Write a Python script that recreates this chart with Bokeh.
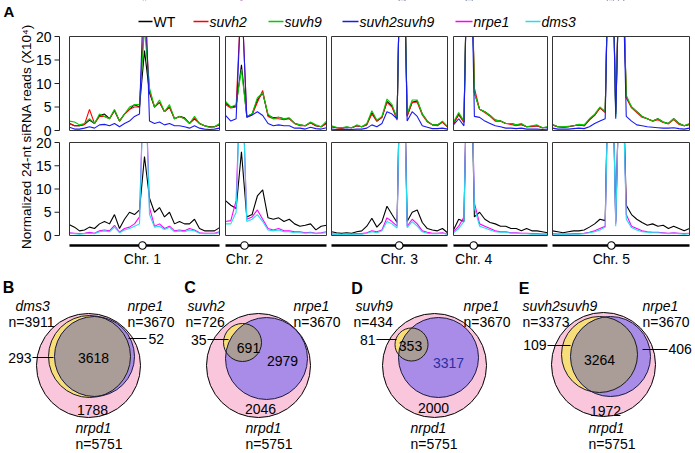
import numpy as np
from bokeh.plotting import figure
from bokeh.models import Range1d
from bokeh.core.properties import value
from bokeh.embed import file_html
from bokeh.resources import INLINE

FONT = value("Liberation Sans")

# ---------------- data ----------------
chrom_names = ["Chr. 1", "Chr. 2", "Chr. 3", "Chr. 4", "Chr. 5"]
chrom_length_mb = [30.43, 19.70, 23.46, 18.59, 26.98]
centromere_mb = [14.8, 3.7, 13.7, 4.0, 11.6]
y_ticks = [0, 5, 10, 15, 20]
y_tick_labels = ["0", "5", "10", "15", "20"]
Y_MAX = 20

# normalized 24-nt siRNA reads (x10^4), ~1 Mb bins, one list per chromosome
wt_top = [
    [1.5, 1.0, 1.0, 1.3, 2.2, 1.5, 3.2, 3.5, 2.5, 4.2, 2.0, 3.5, 4.5, 5.5, 5.0, 17, 8.0, 5.0, 6.0, 4.0, 5.0, 2.5, 3.0, 2.7, 1.5, 2.5, 1.5, 1.0, 0.8, 0.8, 1.2],
    [5.8, 5.0, 5.2, 14, 3.0, 3.5, 6.5, 8.0, 3.2, 2.7, 2.8, 2.5, 2.6, 1.5, 1.2, 1.0, 1.7, 1.0, 0.8, 1.6],
    [0.8, 0.6, 0.5, 0.7, 0.6, 1.0, 0.8, 1.3, 3.8, 2.0, 2.8, 6.2, 5.2, 2.5, 60, 3.2, 6.0, 6.3, 3.5, 2.0, 1.2, 1.2, 1.8, 0.8],
    [1.5, 3.5, 1.8, 60, 8.0, 4.5, 4.0, 3.2, 2.2, 2.0, 1.5, 1.5, 1.2, 1.3, 0.8, 0.9, 1.0, 0.6, 0.7],
    [1.2, 0.8, 0.7, 0.8, 1.0, 1.2, 1.0, 2.3, 3.3, 4.8, 4.0, 60, 3.5, 50, 7.0, 5.0, 4.0, 3.0, 2.5, 2.0, 2.5, 1.8, 1.5, 2.5, 1.5, 1.0, 1.3],
]
suvh2 = [
    [1.5, 1.0, 1.0, 1.3, 4.5, 1.5, 3.0, 3.0, 2.5, 4.3, 2.0, 3.5, 4.5, 5.0, 5.0, 25, 8.5, 5.0, 6.0, 4.0, 5.0, 2.5, 3.0, 2.5, 1.5, 2.7, 1.5, 1.0, 0.7, 0.8, 1.2],
    [5.5, 4.8, 5.0, 30, 2.8, 3.3, 6.0, 8.5, 3.0, 2.5, 2.5, 2.3, 2.5, 1.5, 1.0, 1.0, 1.6, 1.0, 0.8, 1.5],
    [0.8, 0.6, 0.5, 0.7, 0.6, 1.0, 0.8, 1.2, 3.5, 2.0, 2.8, 6.0, 5.0, 2.2, 60, 3.0, 6.0, 6.0, 3.3, 1.8, 1.2, 1.0, 1.8, 0.7],
    [1.5, 3.3, 1.7, 60, 9.0, 4.5, 3.8, 3.0, 2.0, 2.0, 1.5, 1.3, 1.0, 1.3, 0.8, 0.8, 1.0, 0.6, 0.7],
    [1.2, 0.8, 0.7, 0.8, 1.0, 1.2, 1.0, 2.2, 3.2, 4.8, 3.8, 60, 4.0, 50, 7.0, 4.8, 3.8, 2.8, 2.5, 2.0, 2.3, 1.7, 1.4, 2.3, 1.3, 1.0, 1.3],
]
suvh9 = [
    [2.0, 1.8, 1.2, 1.5, 2.5, 1.5, 3.5, 3.0, 2.5, 4.5, 2.0, 3.5, 5.0, 5.5, 5.5, 22, 9.0, 5.0, 6.5, 4.0, 5.5, 2.5, 3.0, 2.5, 1.5, 3.0, 1.5, 1.0, 0.7, 0.8, 1.5],
    [6.2, 5.0, 5.5, 13, 3.0, 3.5, 7.0, 8.0, 3.5, 2.5, 2.8, 2.5, 2.7, 1.5, 1.2, 1.0, 1.8, 1.2, 0.8, 2.0],
    [1.0, 0.7, 0.6, 0.8, 0.6, 1.2, 0.8, 1.5, 4.2, 2.2, 3.0, 6.7, 5.5, 2.5, 60, 3.5, 6.5, 6.5, 3.5, 2.0, 1.2, 1.2, 2.0, 0.8],
    [1.8, 3.8, 2.0, 60, 8.0, 4.5, 4.0, 3.2, 2.2, 2.0, 1.5, 1.5, 1.2, 1.5, 0.8, 1.0, 1.2, 0.6, 0.8],
    [1.3, 0.8, 0.8, 0.9, 1.0, 1.3, 1.2, 2.5, 3.5, 5.0, 4.0, 60, 3.0, 50, 7.5, 5.0, 4.0, 3.0, 2.5, 2.0, 2.5, 1.8, 1.5, 2.5, 1.5, 1.0, 1.5],
]
suvh2suvh9 = [
    [0.7, 0.3, 0.3, 0.5, 0.8, 0.5, 1.2, 1.3, 1.0, 1.5, 0.8, 1.5, 2.0, 3.0, 3.5, 35, 2.0, 1.5, 1.8, 1.2, 1.5, 1.0, 1.0, 0.8, 0.5, 1.0, 0.5, 0.3, 0.2, 0.3, 0.5],
    [3.2, 2.0, 2.5, 30, 2.8, 3.3, 4.0, 3.2, 1.5, 1.0, 1.2, 1.0, 1.0, 0.5, 0.5, 0.3, 0.7, 0.4, 0.3, 0.6],
    [0.3, 0.2, 0.2, 0.3, 0.2, 0.3, 0.3, 0.5, 1.2, 0.8, 1.5, 4.0, 3.5, 2.5, 60, 2.0, 4.0, 3.0, 1.0, 0.7, 0.4, 0.4, 0.5, 0.3],
    [1.2, 2.5, 1.0, 60, 3.0, 2.8, 2.0, 1.5, 1.0, 0.8, 0.5, 0.5, 0.4, 0.5, 0.3, 0.3, 0.3, 0.2, 0.3],
    [0.5, 0.3, 0.3, 0.3, 0.4, 0.5, 0.4, 0.8, 1.5, 2.0, 2.5, 60, 2.5, 50, 3.0, 2.0, 1.2, 1.0, 0.8, 0.7, 0.6, 0.5, 0.5, 0.6, 0.4, 0.3, 0.5],
]
wt_bottom = [
    [2.3, 1.8, 1.0, 1.2, 1.8, 1.5, 2.5, 3.0, 2.5, 4.5, 1.5, 3.5, 5.0, 4.5, 5.5, 17, 8.0, 5.0, 6.0, 4.0, 5.0, 2.5, 3.0, 2.5, 2.5, 3.5, 1.5, 1.0, 1.0, 1.0, 1.7],
    [7.5, 6.5, 5.8, 18, 4.0, 4.5, 8.5, 9.8, 3.8, 3.5, 3.8, 3.0, 3.5, 2.5, 2.0, 2.2, 2.5, 1.2, 2.0, 2.2],
    [0.8, 0.6, 0.5, 0.6, 0.5, 0.8, 1.0, 2.0, 3.7, 1.8, 3.0, 6.3, 4.5, 2.8, 60, 3.0, 5.0, 5.5, 2.8, 1.5, 1.2, 1.0, 1.5, 0.6],
    [1.2, 3.5, 3.0, 60, 4.0, 5.0, 3.5, 2.8, 2.5, 2.0, 2.0, 1.5, 1.5, 1.0, 1.5, 1.0, 1.0, 0.8, 0.6],
    [1.0, 0.8, 0.6, 0.8, 1.0, 1.0, 1.2, 1.8, 2.5, 3.5, 3.2, 60, 3.0, 50, 6.5, 4.5, 3.5, 2.8, 2.2, 2.5, 2.0, 2.2, 1.5, 2.0, 1.5, 1.0, 1.5],
]
nrpe1 = [
    [0.6, 0.5, 0.4, 0.5, 0.7, 0.5, 1.0, 1.2, 1.0, 2.2, 0.7, 1.5, 1.8, 2.5, 4.0, 40, 6.0, 2.0, 2.5, 1.5, 2.0, 1.0, 1.2, 1.0, 1.5, 1.2, 0.6, 0.5, 0.5, 0.5, 0.8],
    [3.0, 3.2, 7.5, 40, 3.5, 4.0, 5.5, 3.5, 1.5, 1.2, 1.5, 1.0, 1.0, 0.8, 0.8, 0.6, 0.7, 0.5, 0.6, 0.8],
    [0.3, 0.3, 0.2, 0.3, 0.3, 0.4, 0.4, 0.6, 1.0, 0.8, 1.2, 3.8, 3.0, 2.0, 60, 2.0, 3.5, 2.5, 1.0, 0.7, 0.5, 0.5, 0.6, 0.3],
    [0.8, 2.0, 4.0, 60, 7.0, 2.5, 2.0, 1.5, 1.0, 0.8, 0.8, 0.6, 0.6, 0.5, 0.5, 0.4, 0.4, 0.3, 0.3],
    [0.4, 0.3, 0.3, 0.3, 0.4, 0.4, 0.5, 0.7, 1.0, 1.5, 2.0, 60, 2.5, 50, 4.5, 2.0, 1.5, 1.0, 0.8, 0.7, 0.7, 0.6, 0.5, 0.6, 0.5, 0.4, 0.5],
]
dms3 = [
    [0.5, 0.4, 0.3, 0.4, 0.5, 0.4, 0.8, 1.0, 0.8, 1.8, 0.6, 1.2, 1.5, 2.0, 2.5, 40, 4.5, 1.8, 2.0, 1.3, 1.8, 0.8, 1.0, 0.8, 1.2, 1.0, 0.5, 0.4, 0.4, 0.4, 0.6],
    [2.5, 2.5, 5.0, 40, 3.0, 3.5, 4.5, 3.0, 1.2, 1.0, 1.2, 0.8, 0.8, 0.6, 0.6, 0.5, 0.6, 0.4, 0.5, 0.6],
    [0.3, 0.2, 0.2, 0.3, 0.2, 0.3, 0.3, 0.5, 0.8, 0.6, 1.0, 3.0, 2.5, 1.6, 60, 1.7, 3.0, 2.0, 0.8, 0.5, 0.4, 0.4, 0.5, 0.3],
    [0.6, 1.5, 3.0, 60, 6.0, 2.0, 1.6, 1.2, 0.8, 0.7, 0.7, 0.5, 0.5, 0.4, 0.4, 0.3, 0.3, 0.3, 0.2],
    [0.3, 0.3, 0.2, 0.3, 0.3, 0.3, 0.4, 0.6, 0.8, 1.2, 1.8, 60, 2.0, 50, 3.5, 1.7, 1.2, 0.8, 0.7, 0.6, 0.6, 0.5, 0.4, 0.5, 0.4, 0.3, 0.4],
]

legend_labels = ["WT", "suvh2", "suvh9", "suvh2suvh9", "nrpe1", "dms3"]

# Venn diagrams (overlap with nrpd1-dependent loci)
venn_letters = ["B", "C", "D", "E"]
venn_query = ["dms3", "suvh2", "suvh9", "suvh2suvh9"]
venn_query_n = [3911, 726, 434, 3373]
venn_nrpe1_n = [3670, 3670, 3670, 3670]
venn_nrpd1_n = [5751, 5751, 5751, 5751]
venn_query_only = [293, 35, 81, 109]
venn_shared = [3618, 691, 353, 3264]
venn_nrpe1_only = [52, 2979, 3317, 406]
venn_nrpd1_only = [1788, 2046, 2000, 1972]

# ---------------- styles / layout ----------------
C_WT, C_S2, C_S9, C_S29, C_NRPE1, C_DMS3 = "black", "#FF0000", "#00CC00", "#1A1AF0", "#FF00FF", "#22DDEE"
legend_colors = [C_WT, C_S2, C_S9, C_S29, C_NRPE1, C_DMS3]
legend_italic = [False, True, True, True, True, True]
legend_line_x = [(138, 152), (193, 208), (268, 283), (342, 358), (455, 472), (525, 540)]
LEGEND_Y = 21

panel_x = [(69, 219), (225, 326), (331, 447), (453, 547), (552, 689)]
row_y = [(130, 36), (235, 142)]   # (pixel of 0, pixel of 20)
AXIS_X = 59
CHR_BAR_Y = 245
CHR_LABEL_Y = 258

PINK, YELLOW, PURPLE, GREY = "#FAC6DC", "#F8DE78", "#A88CE8", "#AA9C96"

W, H = 695, 453
p = figure(width=W, height=H, x_range=Range1d(0, W), y_range=Range1d(H, 0),
           output_backend="svg", toolbar_location=None, min_border=0,
           x_axis_location=None, y_axis_location=None, outline_line_color=None,
           background_fill_color="white", border_fill_color="white")
p.grid.visible = False


def txt(api, x, y, s, size="14px", style="normal", align="center", color="black", angle=0.0):
    api.text(x=[x], y=[y], text=[s], text_font=FONT, text_font_size=size,
             text_font_style=style, text_align=align, text_baseline="middle",
             text_color=color, angle=angle)


def panel(ci, ri):
    x0, x1 = panel_x[ci]
    yb, yt = row_y[ri]
    return p.subplot(x_source=Range1d(0, chrom_length_mb[ci]), y_source=Range1d(0, Y_MAX),
                     x_target=Range1d(x0, x1), y_target=Range1d(yb, yt))


def draw_row(ri, series):
    for ci in range(5):
        sub = panel(ci, ri)
        for vals, col in series:
            v = vals[ci]
            pos = np.linspace(0, chrom_length_mb[ci], len(v))
            sub.line(x=pos, y=v, line_color=col, line_width=1.1)


# bottom row, then mask overflow, then top row, then mask overflow
draw_row(1, [(wt_bottom, C_WT), (nrpe1, C_NRPE1), (dms3, C_DMS3)])
p.quad(left=-50, right=750, top=-3000, bottom=row_y[1][1], fill_color="white", line_color=None)
draw_row(0, [(wt_top, C_WT), (suvh2, C_S2), (suvh9, C_S9), (suvh2suvh9, C_S29)])
p.quad(left=-50, right=750, top=-3000, bottom=row_y[0][1], fill_color="white", line_color=None)

# frames
for ri in range(2):
    yb, yt = row_y[ri]
    p.quad(left=[a for a, b in panel_x], right=[b for a, b in panel_x],
           top=yt, bottom=yb, fill_color=None, line_color="#333333", line_width=1)

# y axes
for ri in range(2):
    yb, yt = row_y[ri]
    ax = p.subplot(x_source=Range1d(0, 1), y_source=Range1d(0, Y_MAX),
                   x_target=Range1d(0, 1), y_target=Range1d(yb, yt))
    ax.segment(x0=AXIS_X, x1=AXIS_X, y0=0, y1=Y_MAX, line_color="#222222", line_width=1)
    ax.segment(x0=AXIS_X - 5, x1=AXIS_X, y0=y_ticks, y1=y_ticks, line_color="#222222", line_width=1)
    ax.text(x=[AXIS_X - 8] * len(y_ticks), y=y_ticks, text=y_tick_labels, text_font=FONT,
            text_font_size="14px", text_align="right", text_baseline="middle", text_color="black")

txt(p, 26, 136, "Normalized 24-nt siRNA reads (X10\u2074)", size="13.5px", angle=np.pi / 2)

# chromosome bars
for ci in range(5):
    x0, x1 = panel_x[ci]
    sub = p.subplot(x_source=Range1d(0, chrom_length_mb[ci]), y_source=Range1d(0, 1),
                    x_target=Range1d(x0, x1), y_target=Range1d(0, 1))
    sub.line(x=[0, chrom_length_mb[ci]], y=[CHR_BAR_Y, CHR_BAR_Y], line_color="black", line_width=2.5)
    sub.scatter(x=[centromere_mb[ci]], y=[CHR_BAR_Y], size=7.5, fill_color="white",
                line_color="black", line_width=1.2)
    txt(sub, centromere_mb[ci], CHR_LABEL_Y, chrom_names[ci])

# legend
for lab, col, it, (lx0, lx1) in zip(legend_labels, legend_colors, legend_italic, legend_line_x):
    p.segment(x0=[lx0], x1=[lx1], y0=[LEGEND_Y], y1=[LEGEND_Y], line_color=col, line_width=1.6)
    txt(p, lx1 + 1, LEGEND_Y, lab, style="italic" if it else "normal", align="left")

txt(p, 8.5, 11, "A", size="15px", style="bold")

# ---------------- Venn diagrams ----------------
venn_geom = [
    dict(pink=(88, 365, 52), query=(89, 356, 41), nrpe1=(94, 356, 40)),
    dict(pink=(258, 365, 52), query=(242, 342, 19), nrpe1=(266, 358, 41)),
    dict(pink=(434, 365, 52), query=(411, 344, 16.5), nrpe1=(438, 357, 40)),
    dict(pink=(603, 364, 52), query=(599, 354, 38), nrpe1=(610, 356, 40)),
]
venn_text = [
    dict(letter=(8, 287), qname=(15, 305), qn=(8, 321), rname=(127, 305), dname=(75, 427),
         shared=(93, 357), ponly=(92, 409), qonly=(31, 357), qline=(32, 53, 357),
         ronly=(148, 338, "left", "black"), rline=(128, 146, 338)),
    dict(letter=(189.5, 287), qname=(187, 305), qn=(185, 321), rname=(293, 305), dname=(245, 427),
         shared=(248, 347), ponly=(260, 408), qonly=(206, 339), qline=(207, 228, 339),
         ronly=(282, 360, "center", "black"), rline=None),
    dict(letter=(356.5, 288), qname=(355, 305), qn=(353, 321), rname=(463, 305), dname=(410, 427),
         shared=(410, 345), ponly=(433, 407), qonly=(375, 339), qline=(376, 396, 339),
         ronly=(448, 362, "center", "#2E2E9E"), rline=None),
    dict(letter=(523.5, 288), qname=(522, 305), qn=(522, 321), rname=(642, 305), dname=(588, 427),
         shared=(599, 359), ponly=(605, 410), qonly=(546, 344), qline=(547, 570, 345),
         ronly=(668, 348, "left", "black"), rline=(642, 667, 349)),
]


def lens(c1, c2, n=720):
    (x1, y1, r1), (x2, y2, r2) = c1, c2
    t = np.linspace(0, 2 * np.pi, n, endpoint=False)
    ax_, ay_ = x1 + r1 * np.cos(t), y1 + r1 * np.sin(t)
    bx_, by_ = x2 + r2 * np.cos(t), y2 + r2 * np.sin(t)
    ka = (ax_ - x2) ** 2 + (ay_ - y2) ** 2 <= r2 ** 2
    kb = (bx_ - x1) ** 2 + (by_ - y1) ** 2 <= r1 ** 2
    px = np.concatenate([ax_[ka], bx_[kb]])
    py = np.concatenate([ay_[ka], by_[kb]])
    cx, cy = px.mean(), py.mean()
    order = np.argsort(np.arctan2(py - cy, px - cx))
    return px[order], py[order]


for i in range(4):
    g, t = venn_geom[i], venn_text[i]
    cx, cy, r = g["pink"]
    p.circle(x=[cx], y=[cy], radius=r, fill_color=PINK, line_color="black", line_width=1)
    cx, cy, r = g["query"]
    p.circle(x=[cx], y=[cy], radius=r, fill_color=YELLOW, line_color=None)
    cx, cy, r = g["nrpe1"]
    p.circle(x=[cx], y=[cy], radius=r, fill_color=PURPLE, line_color=None)
    lx, ly = lens(g["query"], g["nrpe1"])
    p.patch(x=lx, y=ly, fill_color=GREY, line_color=None)
    for key, lc in (("query", "#1a1a1a"), ("nrpe1", "#1a1a40")):
        cx, cy, r = g[key]
        p.circle(x=[cx], y=[cy], radius=r, fill_color=None, line_color=lc, line_width=1)

    txt(p, *t["letter"], venn_letters[i], size="16px", style="bold")
    txt(p, *t["qname"], venn_query[i], style="italic", align="left")
    txt(p, *t["qn"], f"n={venn_query_n[i]}", align="left")
    txt(p, *t["rname"], "nrpe1", style="italic", align="left")
    txt(p, t["rname"][0], t["rname"][1] + 16, f"n={venn_nrpe1_n[i]}", align="left")
    txt(p, *t["dname"], "nrpd1", style="italic", align="left")
    txt(p, t["dname"][0], t["dname"][1] + 16, f"n={venn_nrpd1_n[i]}", align="left")
    txt(p, *t["shared"], str(venn_shared[i]))
    txt(p, *t["ponly"], str(venn_nrpd1_only[i]))
    txt(p, *t["qonly"], str(venn_query_only[i]), align="right")
    qx0, qx1, qy = t["qline"]
    p.segment(x0=[qx0], x1=[qx1], y0=[qy], y1=[qy], line_color="black", line_width=1)
    rx, ry, ra, rc = t["ronly"]
    txt(p, rx, ry, str(venn_nrpe1_only[i]), align=ra, color=rc)
    if t["rline"] is not None:
        a, b, yy = t["rline"]
        p.segment(x0=[a], x1=[b], y0=[yy], y1=[yy], line_color="black", line_width=1)

open("out.html", "w").write(file_html(p, INLINE))
